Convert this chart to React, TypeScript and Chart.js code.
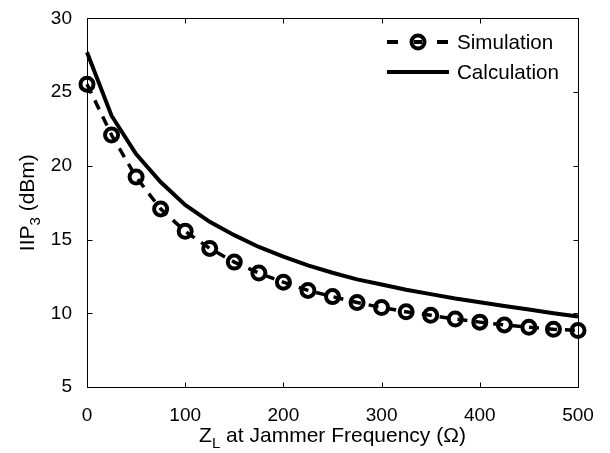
import React, { useEffect, useRef } from "react";
import { Chart, registerables } from "chart.js";

Chart.register(...registerables);

// ---- Data ----
const simZ = [0, 25, 50, 75, 100, 125, 150, 175, 200, 225, 250, 275, 300, 325, 350, 375, 400, 425, 450, 475, 500];
const simulationIIP3 = [25.54, 22.09, 19.24, 17.08, 15.56, 14.4, 13.47, 12.73, 12.11, 11.55, 11.13, 10.73, 10.39, 10.1, 9.86, 9.61, 9.4, 9.21, 9.05, 8.92, 8.83];
const calcZ = [0, 25, 50, 75, 100, 125, 150, 175, 200, 225, 250, 275, 300, 325, 350, 375, 400, 425, 450, 475, 500];
const calculationIIP3 = [27.7, 23.4, 20.8, 18.9, 17.35, 16.2, 15.3, 14.5, 13.85, 13.25, 12.75, 12.3, 11.95, 11.6, 11.3, 11.0, 10.75, 10.5, 10.25, 10.0, 9.78];
const xTicks = [0, 100, 200, 300, 400, 500];
const yTicks = [5, 10, 15, 20, 25, 30];
const seriesLabels = ["Simulation", "Calculation"];
const xTitleParts = [
  { text: "Z", sub: false },
  { text: "L", sub: true },
  { text: " at Jammer Frequency (\u03A9)", sub: false },
];
const yTitleParts = [
  { text: "IIP", sub: false },
  { text: "3", sub: true },
  { text: " (dBm)", sub: false },
];

const FONT = '"Liberation Sans", Arial, Helvetica, sans-serif';

type Part = { text: string; sub: boolean };

function drawParts(ctx: CanvasRenderingContext2D, parts: Part[], cx: number, baseY: number, size: number) {
  const mainFont = `${size}px ${FONT}`;
  const subFont = `${Math.round(size * 0.7)}px ${FONT}`;
  const widths = parts.map((p) => {
    ctx.font = p.sub ? subFont : mainFont;
    return ctx.measureText(p.text).width;
  });
  const total = widths.reduce((a, b) => a + b, 0);
  let x = cx - total / 2;
  ctx.textAlign = "left";
  ctx.textBaseline = "alphabetic";
  parts.forEach((p, i) => {
    ctx.font = p.sub ? subFont : mainFont;
    ctx.fillText(p.text, x, baseY + (p.sub ? size * 0.3 : 0));
    x += widths[i];
  });
}

const framePlugin = {
  id: "matlabFrame",
  afterDraw(chart: any) {
    const ctx: CanvasRenderingContext2D = chart.ctx;
    const { left, right, top, bottom } = chart.chartArea;
    const xs = chart.scales.x;
    const ys = chart.scales.y;
    ctx.save();
    ctx.strokeStyle = "#000";
    ctx.lineWidth = 1;
    const L = Math.round(left) + 0.5;
    const R = Math.round(right) + 0.5;
    const T = Math.round(top) + 0.5;
    const B = Math.round(bottom) + 0.5;
    ctx.beginPath();
    ctx.rect(L, T, R - L, B - T);
    ctx.stroke();
    const tl = 5;
    ctx.beginPath();
    xTicks.forEach((v) => {
      const px = Math.round(xs.getPixelForValue(v)) + 0.5;
      ctx.moveTo(px, B);
      ctx.lineTo(px, B - tl);
      ctx.moveTo(px, T);
      ctx.lineTo(px, T + tl);
    });
    yTicks.forEach((v) => {
      const py = Math.round(ys.getPixelForValue(v)) + 0.5;
      ctx.moveTo(L, py);
      ctx.lineTo(L + tl, py);
      ctx.moveTo(R, py);
      ctx.lineTo(R - tl, py);
    });
    ctx.stroke();

    // Axis titles
    ctx.fillStyle = "#000";
    drawParts(ctx, xTitleParts, (left + right) / 2, 442, 21);
    ctx.save();
    ctx.translate(33.5, (top + bottom) / 2);
    ctx.rotate(-Math.PI / 2);
    drawParts(ctx, yTitleParts, 0, 0, 21);
    ctx.restore();

    // Legend
    const lx0 = 387;
    const lx1 = 449;
    const y1 = 42;
    const y2 = 72;
    ctx.lineWidth = 4;
    ctx.setLineDash([11, 39]);
    ctx.beginPath();
    ctx.moveTo(lx0, y1);
    ctx.lineTo(lx1, y1);
    ctx.stroke();
    ctx.setLineDash([]);
    ctx.beginPath();
    ctx.arc((lx0 + lx1) / 2, y1, 6.5, 0, Math.PI * 2);
    ctx.stroke();
    ctx.beginPath();
    ctx.moveTo((lx0 + lx1) / 2 - 4, y1);
    ctx.lineTo((lx0 + lx1) / 2 + 4, y1);
    ctx.stroke();
    ctx.beginPath();
    ctx.moveTo(lx0, y2);
    ctx.lineTo(lx1, y2);
    ctx.stroke();
    ctx.font = `20.6px ${FONT}`;
    ctx.textAlign = "left";
    ctx.textBaseline = "middle";
    ctx.fillText(seriesLabels[0], 457, y1 + 1);
    ctx.fillText(seriesLabels[1], 457, y2 + 1);
    ctx.restore();
  },
};

export default function App() {
  const canvasRef = useRef<HTMLCanvasElement | null>(null);

  useEffect(() => {
    document.body.style.margin = "0";
    const canvas = canvasRef.current;
    if (!canvas) return;
    const chart = new Chart(canvas, {
      type: "line",
      data: {
        datasets: [
          {
            label: seriesLabels[1],
            data: calcZ.map((x, i) => ({ x, y: calculationIIP3[i] })),
            borderColor: "#000",
            borderWidth: 4,
            pointRadius: 0,
            tension: 0,
            clip: false as any,
          },
          {
            label: seriesLabels[0],
            data: simZ.map((x, i) => ({ x, y: simulationIIP3[i] })),
            borderColor: "#000",
            borderWidth: 3.5,
            borderDash: [10, 8],
            pointRadius: 6.5,
            pointBorderWidth: 4,
            pointBackgroundColor: "rgba(0,0,0,0)",
            pointBorderColor: "#000",
            tension: 0,
            clip: false as any,
          },
        ],
      },
      options: {
        animation: false,
        responsive: false,
        maintainAspectRatio: false,
        layout: { padding: { top: 13.5, right: 32, left: 0, bottom: 0 } },
        plugins: { legend: { display: false }, tooltip: { enabled: false } },
        scales: {
          x: {
            type: "linear",
            min: 0,
            max: 500,
            grid: { display: false },
            border: { display: false },
            ticks: {
              stepSize: 100,
              padding: 9,
              maxRotation: 0,
              color: "#000",
              font: { family: FONT, size: 19 },
            },
            afterFit: (s: any) => {
              s.height = 66;
            },
          },
          y: {
            type: "linear",
            min: 5,
            max: 30,
            grid: { display: false },
            border: { display: false },
            ticks: {
              stepSize: 5,
              padding: 7,
              color: "#000",
              font: { family: FONT, size: 19 },
            },
            afterFit: (s: any) => {
              s.width = 87;
            },
          },
        },
      },
      plugins: [framePlugin],
    });
    return () => chart.destroy();
  }, []);

  return (
    <div style={{ width: 610, height: 453, background: "#fff" }}>
      <canvas ref={canvasRef} width={610} height={453} style={{ display: "block" }} />
    </div>
  );
}
